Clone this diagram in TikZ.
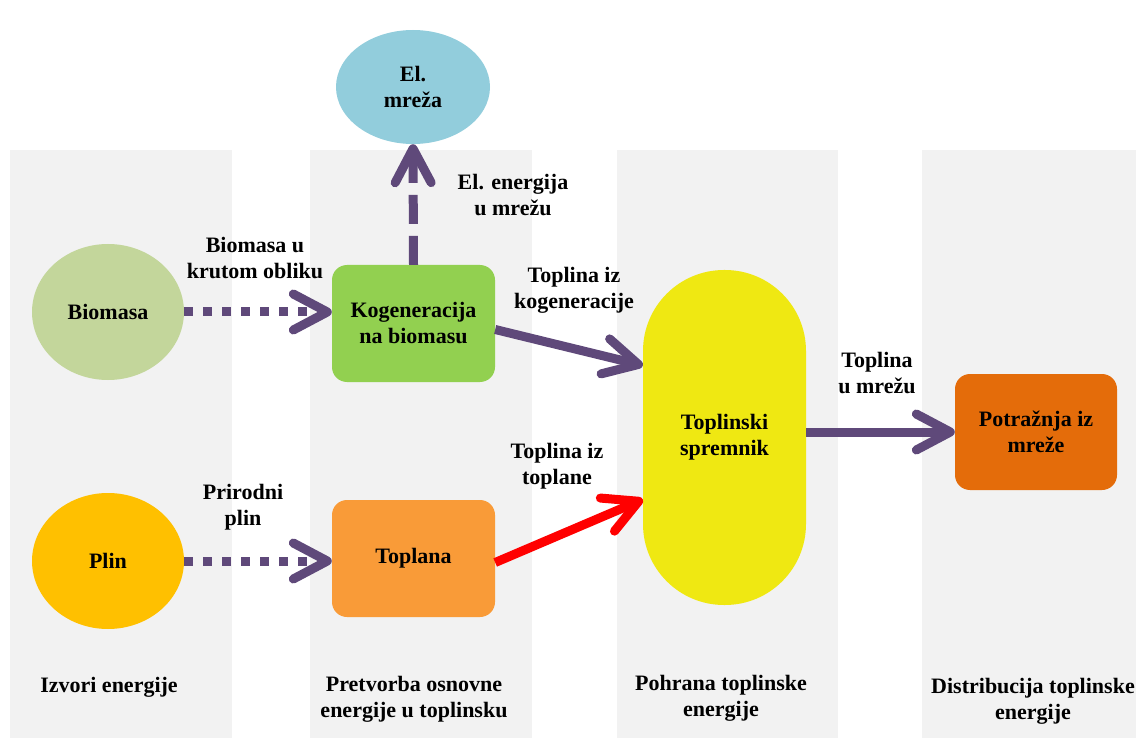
\documentclass[tikz,border=0pt]{standalone}
\usepackage{fontspec}
\setmainfont{Liberation Serif}
\usetikzlibrary{shapes.geometric,arrows.meta,calc}
\definecolor{colbg}{HTML}{F2F2F2}
\definecolor{arrpurple}{HTML}{5F497A}
\definecolor{cblue}{HTML}{92CDDC}
\definecolor{cbio}{HTML}{C3D69B}
\definecolor{cplin}{HTML}{FFC000}
\definecolor{ckog}{HTML}{92D050}
\definecolor{ctop}{HTML}{F99B38}
\definecolor{cspr}{HTML}{EFE812}
\definecolor{cpot}{HTML}{E46C0A}
\begin{document}
\begin{tikzpicture}[x=1pt,y=-1pt,
  txt/.style={font=\fontsize{22}{26}\selectfont\bfseries, align=center, text=black},
  oval/.style={ellipse, draw=none, inner sep=0pt, txt},
  box/.style={rectangle, rounded corners=15pt, draw=none, inner sep=0pt, minimum width=163pt, minimum height=117pt, txt},
  colrect/.style={fill=colbg, draw=none},
  flow/.style={line width=9pt, color=arrpurple, -{Straight Barb[length=34pt,width=36pt,round]}},
  dotflow/.style={flow, dash pattern=on 9pt off 10pt},
  dashflow/.style={flow, dash pattern=on 29pt off 12pt},
  redflow/.style={flow, color=red}
]
\useasboundingbox (0,0) rectangle (1136,738);
% columns
\fill[colrect] (10,150) rectangle (232,738);
\fill[colrect] (310,150) rectangle (532,738);
\fill[colrect] (617,150) rectangle (838,738);
\fill[colrect] (922,150) rectangle (1136,738);

% nodes
\node[oval, fill=cblue, minimum width=154pt, minimum height=114pt] (elm) at (413,87) {El.\\mreža};
\node[oval, fill=cbio, minimum width=152pt, minimum height=136pt] (bio) at (108,312) {Biomasa};
\node[oval, fill=cplin, minimum width=152pt, minimum height=136pt] (plin) at (108,561) {Plin};
\node[box, fill=ckog] (kog) at (413.5,323.5) {Kogeneracija\\na biomasu};
\node[box, fill=ctop] (topl) at (413.5,558.5) {Toplana};
\node[rectangle, rounded corners=81pt, fill=cspr, minimum width=163pt, minimum height=335pt, inner sep=0pt, txt] (spr) at (724.5,437.5) {Toplinski\\spremnik};
\node[box, fill=cpot, minimum width=162pt, minimum height=116pt] (pot) at (1036,432) {Potražnja iz\\mreže};

% connectors
\draw[dotflow] (bio.east) -- (bio.east -| kog.west);
\draw[dotflow] (plin.east) -- (plin.east -| topl.west);
\draw[dashflow] (kog.north) -- (elm.south);
\draw[flow] ([yshift=-6pt]kog.east) -- ([yshift=72pt]spr.west);
\draw[redflow] ([yshift=-4pt]topl.east) -- ([yshift=-62pt]spr.west);
\draw[flow] (spr.east |- pot.west) -- (pot.west);

% labels
\node[txt] (l1) at (513,195) {El. energija\\u mrežu};
\node[txt] (l2) at (255,258) {Biomasa u\\krutom obliku};
\node[txt] (l3) at (574,290) {Toplina iz\\kogeneracije};
\node[txt] (l4) at (877,373) {Toplina\\u mrežu};
\node[txt] (l5) at (557,466) {Toplina iz\\toplane};
\node[txt] (l6) at (243,507) {Prirodni\\plin};
\node[txt] (c1) at (109,687) {Izvori energije};
\node[txt] (c2) at (414,699) {Pretvorba osnovne\\energije u toplinsku};
\node[txt] (c3) at (721,698) {Pohrana toplinske\\energije};
\node[txt] (c4) at (1033,701) {Distribucija toplinske\\energije};
\end{tikzpicture}
\end{document}
